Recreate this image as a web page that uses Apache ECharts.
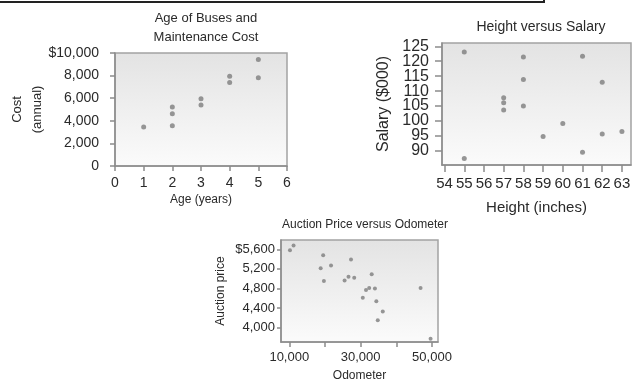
<!DOCTYPE html>
<html>
<head>
<meta charset="utf-8">
<script src="https://cdn.jsdelivr.net/npm/echarts@6/dist/echarts.min.js"></script>
<style>
  html, body { margin: 0; padding: 0; background: #fff; }
  #chart { width: 632px; height: 382px; }
</style>
</head>
<body>
<div id="chart"></div>
<script>
// 公交车车龄与维修费用
const busAge = [1, 2, 2, 2, 3, 3, 4, 4, 5, 5];
const busCost = [3450, 5220, 4620, 3560, 5960, 5400, 7940, 7380, 9420, 7820];
const busXTicks = [0, 1, 2, 3, 4, 5, 6];
const busYTicks = [0, 2000, 4000, 6000, 8000, 10000];

// 身高与薪水
const height = [55, 55, 57, 57, 57, 58, 58, 58, 59, 60, 61, 61, 62, 62, 63];
const salary = [123.1, 87.5, 107.8, 106.1, 103.7, 121.4, 113.9, 105, 94.8, 99.2, 121.7, 89.6, 113, 95.7, 96.5];
const heightTicks = [54, 55, 56, 57, 58, 59, 60, 61, 62, 63];
const salaryTicks = [90, 95, 100, 105, 110, 115, 120, 125];

// 拍卖价格与里程
const odometer = [10200, 11200, 19500, 18800, 19700, 21700, 25500, 26600, 27300, 28200,
  33100, 30600, 31500, 32400, 34000, 34400, 36200, 34800, 46800, 49600];
const price = [5580, 5680, 5480, 5210, 4950, 5270, 4960, 5040, 5390, 5020,
  5090, 4610, 4770, 4810, 4800, 4540, 4330, 4150, 4810, 3770];
const odoTicks = [10000, 20000, 30000, 40000, 50000];
const odoLabels = [10000, 30000, 50000];
const priceTicks = [4000, 4400, 4800, 5200, 5600];

const FONT = "'Liberation Sans', Arial, sans-serif";
const TEXT = '#2a2a2a';
const AXIS = '#8c8c8c';
const DOT = '#7d7d7d';

const plotBg = {
  type: 'linear', x: 0, y: 0, x2: 0, y2: 1,
  colorStops: [{ offset: 0, color: '#e3e3e3' }, { offset: 1, color: '#fbfbfb' }]
};

const fmt = (v) => Math.round(v).toLocaleString('en-US');

const makeGrid = (left, top, width, height) => ({
  left, top, width, height,
  outerBoundsMode: 'none',
  show: true,
  backgroundColor: plotBg,
  borderColor: '#a3a3a3',
  borderWidth: 1.5
});

const makeAxis = (o) => ({
  type: 'value',
  gridIndex: o.grid,
  position: o.position,
  offset: 0,
  min: o.min,
  max: o.max,
  name: o.name,
  nameLocation: 'middle',
  nameGap: o.nameGap,
  nameMoveOverlap: false,
  nameRotate: o.rotate || 0,
  nameTextStyle: { color: TEXT, fontFamily: FONT, fontSize: o.nameSize, lineHeight: o.nameLine || o.nameSize + 4 },
  splitLine: { show: false },
  axisLine: { show: o.line !== false, onZero: false, lineStyle: { color: AXIS, width: 1.5 } },
  axisTick: { show: o.ticks.length > 0, inside: false, length: o.tickLen, customValues: o.ticks, lineStyle: { color: AXIS, width: 1.5 } },
  axisLabel: {
    show: true, customValues: o.labels || o.ticks, margin: o.margin,
    hideOverlap: false,
    color: TEXT, fontFamily: FONT, fontSize: o.labelSize,
    formatter: o.formatter || ((v) => String(v))
  }
});

// 薪水刻度标签很密，分两条轴显示，避免被自动隐藏
const salaryLabelsA = salaryTicks.filter((v, i) => i % 2 === 0);
const salaryLabelsB = salaryTicks.filter((v, i) => i % 2 === 1);

const chart = echarts.init(document.getElementById('chart'));

const option = {
  animation: false,
  title: [
    { text: 'Age of Buses and\nMaintenance Cost', left: 201, top: 4, textAlign: 'center',
      textStyle: { fontFamily: FONT, fontSize: 13, fontWeight: 'normal', color: TEXT, lineHeight: 19 } },
    { text: 'Height versus Salary', left: 536, top: 15, textAlign: 'center',
      textStyle: { fontFamily: FONT, fontSize: 14, fontWeight: 'normal', color: TEXT } },
    { text: 'Auction Price versus Odometer', left: 360, top: 214, textAlign: 'center',
      textStyle: { fontFamily: FONT, fontSize: 12, fontWeight: 'normal', color: TEXT } }
  ],
  graphic: [
    { type: 'line', shape: { x1: 0, y1: 2, x2: 544, y2: 2 }, style: { stroke: '#222', lineWidth: 2 } },
    { type: 'line', shape: { x1: 544, y1: 0, x2: 544, y2: 3 }, style: { stroke: '#222', lineWidth: 2 } }
  ],
  grid: [
    makeGrid(115, 53, 172, 113),
    makeGrid(442, 43, 189, 122),
    makeGrid(281, 240, 157, 102)
  ],
  xAxis: [
    makeAxis({ grid: 0, position: 'bottom', min: 0, max: 6, ticks: busXTicks, name: 'Age (years)', nameGap: 26, nameSize: 12,
      tickLen: 5, margin: 10, labelSize: 14 }),
    makeAxis({ grid: 1, position: 'bottom', min: 53.87, max: 63.46, ticks: heightTicks, name: 'Height (inches)', nameGap: 33, nameSize: 15,
      tickLen: 7, margin: 11, labelSize: 15 }),
    makeAxis({ grid: 2, position: 'bottom', min: 7680, max: 51680, ticks: odoTicks, labels: odoLabels, name: 'Odometer', nameGap: 26, nameSize: 12,
      tickLen: 5, margin: 9, labelSize: 13, formatter: fmt })
  ],
  yAxis: [
    makeAxis({ grid: 0, position: 'left', min: 0, max: 10000, ticks: busYTicks, name: 'Cost\n(annual)', rotate: 90, nameGap: 68, nameSize: 13, nameLine: 20,
      tickLen: 5, margin: 16, labelSize: 14, formatter: (v) => (v === 10000 ? '$' : '') + fmt(v) }),
    makeAxis({ grid: 1, position: 'left', min: 85.3, max: 126.1, ticks: salaryTicks, labels: salaryLabelsA, name: 'Salary ($000)', rotate: 90, nameGap: 48, nameSize: 16,
      tickLen: 7, margin: 13, labelSize: 16 }),
    makeAxis({ grid: 2, position: 'left', min: 3705, max: 5790, ticks: priceTicks, name: 'Auction price', rotate: 90, nameGap: 52, nameSize: 12,
      tickLen: 4, margin: 6, labelSize: 13, formatter: (v) => (v === 5600 ? '$' : '') + fmt(v) }),
    makeAxis({ grid: 1, position: 'left', min: 85.3, max: 126.1, ticks: [], labels: salaryLabelsB, line: false,
      tickLen: 7, margin: 13, labelSize: 16 })
  ],
  series: [
    { type: 'scatter', xAxisIndex: 0, yAxisIndex: 0, symbolSize: 5, itemStyle: { color: DOT },
      data: busAge.map((a, i) => [a, busCost[i]]) },
    { type: 'scatter', xAxisIndex: 1, yAxisIndex: 1, symbolSize: 5, itemStyle: { color: DOT },
      data: height.map((h, i) => [h, salary[i]]) },
    { type: 'scatter', xAxisIndex: 2, yAxisIndex: 2, symbolSize: 4, itemStyle: { color: DOT },
      data: odometer.map((o, i) => [o, price[i]]) }
  ]
};

chart.setOption(option);
</script>
</body>
</html>
